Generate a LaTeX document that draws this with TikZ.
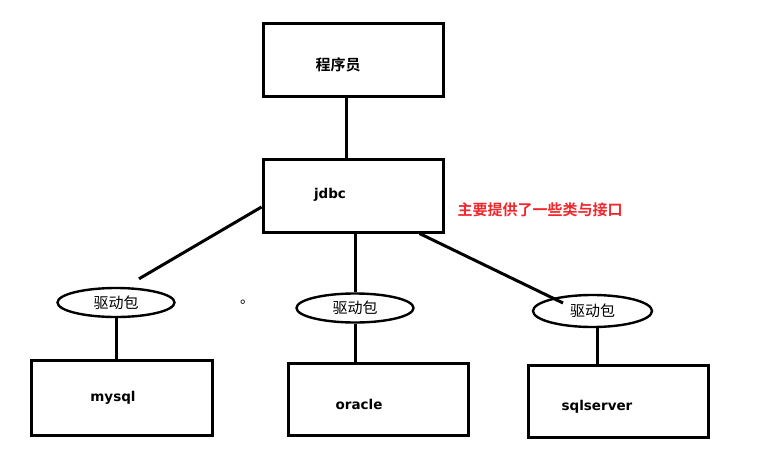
\documentclass[tikz,border=0pt]{standalone}
\usepackage{fontspec}
\setmainfont{DejaVu Sans}
\newfontfamily\cjk{Noto Sans CJK SC}
\newfontfamily\cjkb{Noto Sans CJK SC Bold}
\usetikzlibrary{shapes.geometric}
\definecolor{notered}{RGB}{240,40,45}
\tikzset{
  box/.style={draw, line width=3pt, minimum width=180pt, minimum height=73pt, inner sep=0pt},
  drv/.style={draw, ellipse, line width=2.4pt, minimum width=117pt, minimum height=29pt, inner sep=0pt,
    font=\cjk\fontsize{15}{15}\selectfont},
  lbl/.style={font=\bfseries\fontsize{13.5}{14}\selectfont, inner sep=0pt},
  conn/.style={line width=3pt},
}
\begin{document}
\begin{tikzpicture}[x=1pt,y=-1pt]
\useasboundingbox (0,0) rectangle (762,460);
% boxes
\node[box] (prog) at (353,60) {};
\node[box] (jdbc) at (353,195.5) {};
\node[box, minimum width=181pt, minimum height=75pt] (mysql) at (121.5,397.5) {};
\node[box, minimum height=72pt] (oracle) at (378,399.5) {};
\node[box, minimum height=72pt] (sqlsrv) at (618,401.5) {};
% labels
\node[font=\cjkb\fontsize{15}{15}\selectfont, inner sep=0pt] (tprog) at (338,65) {程序员};
\node[lbl] (tjdbc) at (330,195) {jdbc};
\node[lbl] (tmysql) at (113,398) {mysql};
\node[lbl] (toracle) at (359,404) {oracle};
\node[lbl] (tsql) at (597,407) {sqlserver};
\node[font=\cjkb\fontsize{15}{15}\selectfont, text=notered, inner sep=0pt] (note) at (540,210) {主要提供了一些类与接口};
\node[font=\cjk\fontsize{14}{14}\selectfont, inner sep=0pt, anchor=base west] (dot) at (240,303) {。};
% drivers
\node[drv] (d1) at (116,302.5) {驱动包};
\node[drv] (d2) at (355,308) {驱动包};
\node[drv, minimum width=119pt, minimum height=32pt] (d3) at (592.5,311) {驱动包};
% connectors
\draw[conn] ([xshift=-7pt]prog.south) -- ([xshift=-7pt]jdbc.north);
\draw[conn] ([yshift=-11.5pt]jdbc.west) -- ([xshift=23pt,yshift=8pt]d1.north);
\draw[conn] (d1.south) -- (d1.south |- mysql.north);
\draw[conn] (d2.north |- jdbc.south) -- (d2.north);
\draw[conn] (d2.south) -- (d2.south |- oracle.north);
\draw[conn] ([xshift=-25pt]jdbc.south east) -- ([xshift=-29.5pt,yshift=8pt]d3.center);
\draw[conn] ([xshift=5pt]d3.south) -- ([xshift=5pt]d3.south |- sqlsrv.north);
\end{tikzpicture}
\end{document}
